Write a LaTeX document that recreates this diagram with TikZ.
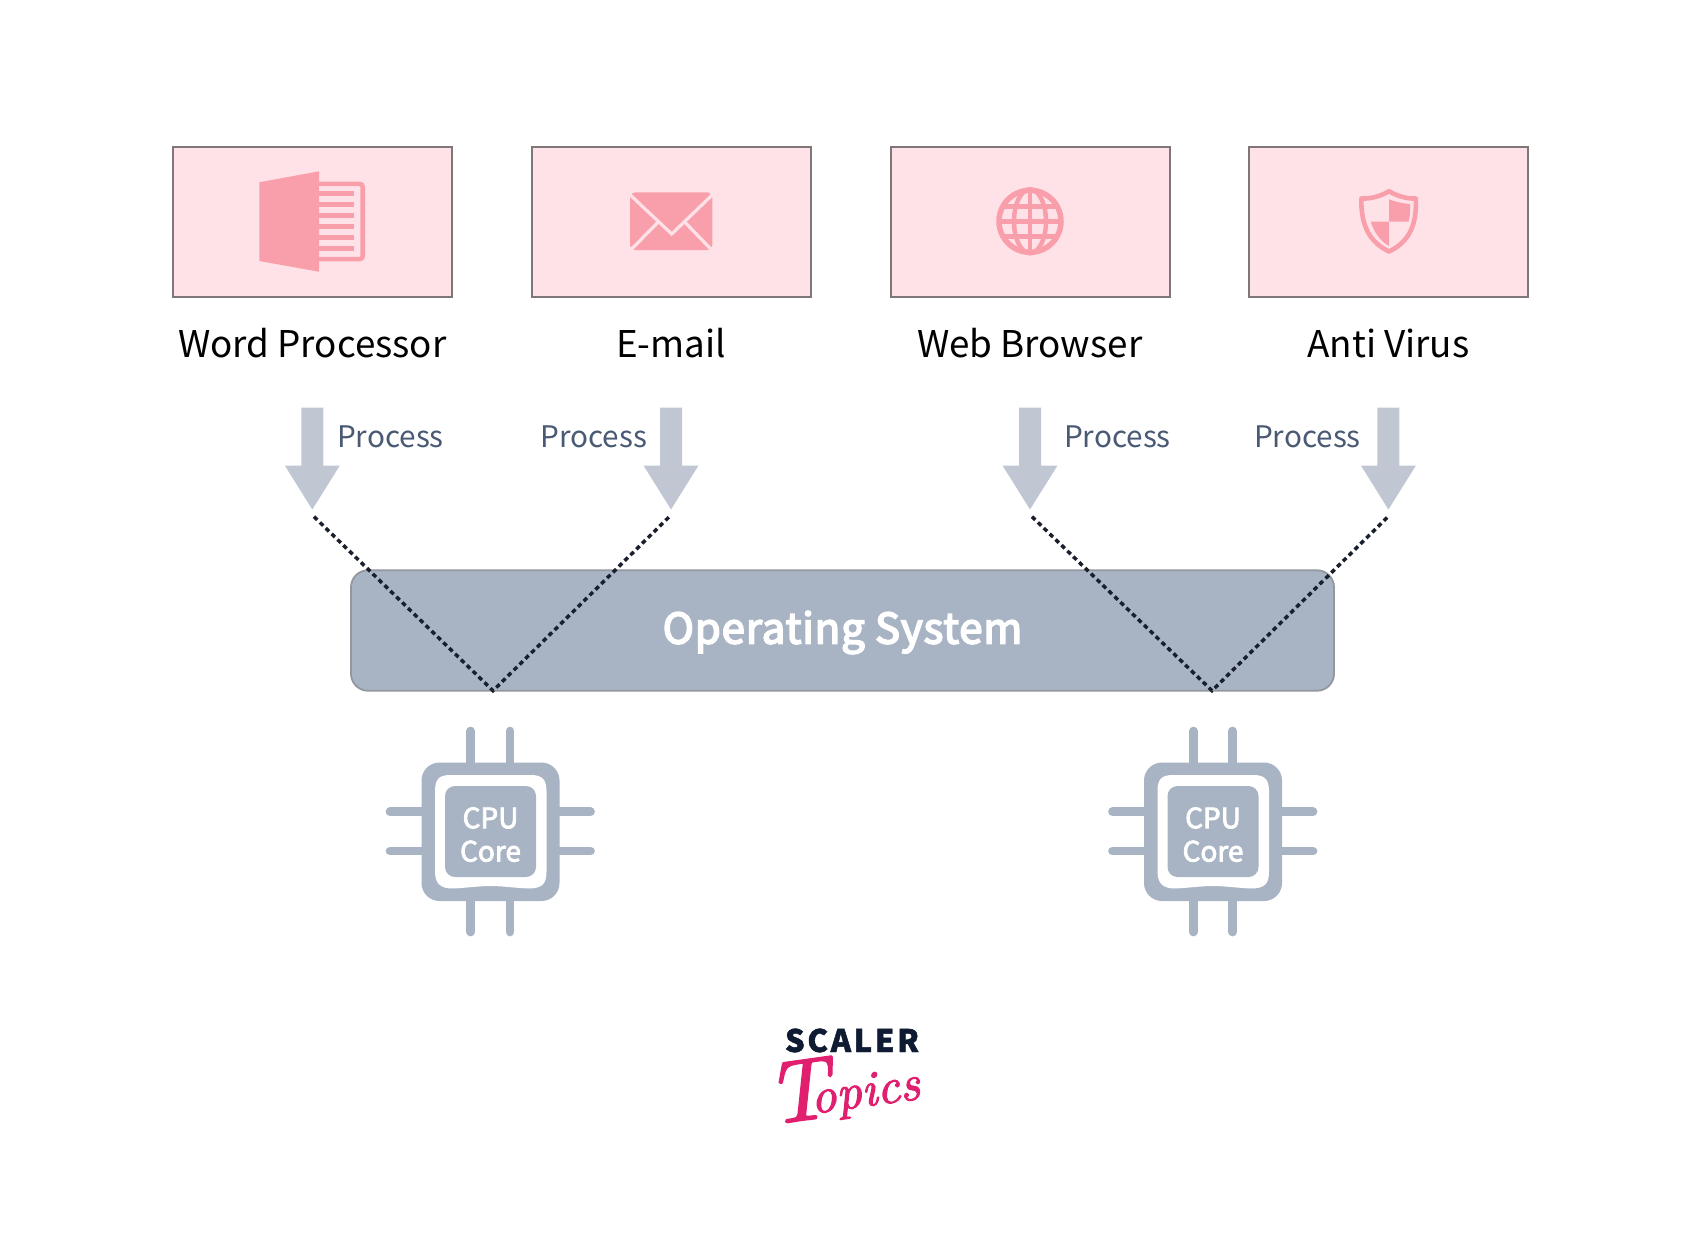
\documentclass[tikz,border=0pt]{standalone}
\usepackage{fontspec}
\newfontfamily\srcfont{Noto Sans CJK SC}
\newfontfamily\srcmedium[FakeBold=3]{Noto Sans CJK SC}
\newfontfamily\srcsemi[FakeBold=4,LetterSpace=2]{Noto Sans CJK SC}
\newfontfamily\scalerfont[LetterSpace=8.5,BoldFeatures={FakeBold=1.5}]{Noto Sans CJK SC}
\newfontfamily\topicsfont[Extension=.otf,FakeBold=2]{lmroman10-italic}
\definecolor{boxfill}{HTML}{FFE2E7}
\definecolor{boxline}{HTML}{7F7777}
\definecolor{iconpink}{HTML}{F99FAB}
\definecolor{osfill}{HTML}{A8B3C4}
\definecolor{osline}{HTML}{93979E}
\definecolor{arrowgrey}{HTML}{C0C7D3}
\definecolor{proctext}{HTML}{4A5A75}
\definecolor{dotline}{HTML}{1A1F2E}
\definecolor{scalerblue}{HTML}{0F1B33}
\definecolor{topicspink}{HTML}{E0206F}
\tikzset{
  appbox/.style={draw=boxline,line width=2pt,fill=boxfill,minimum width=279pt,minimum height=150pt,inner sep=0pt},
  apptitle/.style={anchor=base,inner sep=0pt,font=\srcfont\fontsize{36.8}{36.8}\selectfont,text=black},
  proclabel/.style={anchor=base,inner sep=0pt,font=\srcfont\fontsize{29.7}{29.7}\selectfont,text=proctext},
  coretext/.style={anchor=base,inner sep=0pt,font=\srcmedium\fontsize{28}{28}\selectfont,text=white},
  dotted link/.style={draw=dotline,line width=3.5pt,dash pattern=on 4.6pt off 3.6pt},
  pin/.style={draw=osfill,line width=8.7pt,line cap=round},
  procarrow/.style={fill=arrowgrey},
  iconfill/.style={fill=iconpink},
  iconline/.style={draw=iconpink},
}
\newcommand{\cpuicon}[3]{%
  \begin{scope}[shift={(#2,#3)}]
    \foreach \p in {-19.7,19.6}{
      \draw[pin] (\p,-100.5) -- (\p,-60);
      \draw[pin] (\p,100.5) -- (\p,60);
      \draw[pin] (-100.5,\p) -- (-60,\p);
      \draw[pin] (100,\p) -- (60,\p);
    }
    \fill[osfill,rounded corners=18pt] (-69,-69) rectangle (69,69.5);
    \fill[white] (-55.5,-40) .. controls (-55.5,-52) and (-52,-56.5) .. (-40,-56.5)
      -- (40,-56.5) .. controls (52,-56.5) and (56,-52) .. (56,-40)
      -- (56,40) .. controls (56,52) and (52,57) .. (38,57)
      .. controls (25,56.5) and (12,54.5) .. (0,54.5)
      .. controls (-12,54.5) and (-25,56.5) .. (-38,57)
      .. controls (-50,57) and (-55.5,52) .. (-55.5,40) -- cycle;
    \fill[osfill,rounded corners=10pt] (-45.5,-45.5) rectangle (45.5,45.5);
    \node[coretext] (#1a) at (0,-3.3) {CPU};
    \node[coretext] (#1b) at (0,30) {Core};
  \end{scope}}
\newcommand{\downarrowshape}[1]{%
  \fill[procarrow] (#1-11,407.5) -- (#1+11,407.5) -- (#1+11,465.5) -- (#1+27.5,465.5)
    -- (#1,509.5) -- (#1-27.5,465.5) -- (#1-11,465.5) -- cycle;}
\begin{document}
\begin{tikzpicture}[x=1pt,y=-1pt]
\useasboundingbox (0,0) rectangle (1701,1240);
\fill[white] (0,0) rectangle (1701,1240);

% application boxes
\node[appbox] (b1) at (312.6,221.5) {};
\node[appbox] (b2) at (671.3,221.5) {};
\node[appbox] (b3) at (1030,221.5) {};
\node[appbox] (b4) at (1388.7,221.5) {};

% titles
\node[apptitle] (t1) at (312.3,357.5) {Word Processor};
\node[apptitle] (t2) at (671,357.5) {E-mail};
\node[apptitle] (t3) at (1029.7,357.5) {Web Browser};
\node[apptitle] (t4) at (1388.4,357.5) {Anti Virus};

% book icon
\fill[iconfill] (259.3,182.3) -- (319,171.3) -- (319,271.7) -- (259.3,261) -- cycle;
\draw[iconline,line width=4.6pt,rounded corners=3pt] (319,183.9) -- (362.7,183.9) -- (362.7,259.1) -- (319,259.1);
\foreach \y in {193.7,204.7,215.7,226.7,237.7,248.5}
  \fill[iconfill] (319,\y-2.3) rectangle (354,\y+2.3);

% envelope icon
\fill[iconfill,rounded corners=6pt] (630,192.3) rectangle (712.4,250);
\draw[boxfill,line width=3.2pt] (628.7,193.5) -- (671.7,234) -- (713.7,193.5);
\draw[boxfill,line width=3.2pt] (630.7,250) -- (658.2,222);
\draw[boxfill,line width=3.2pt] (711.7,250) -- (684.7,222);

% globe icon
\begin{scope}[shift={(1030,221.3)}]
  \draw[iconline,line width=5.5pt] (0,0) circle[radius=31];
  \draw[iconline,line width=4.5pt] (0,0) ellipse[x radius=16,y radius=32];
  \draw[iconline,line width=4.5pt] (0,-32) -- (0,32);
  \draw[iconline,line width=4.5pt] (-32,0) -- (32,0);
  \draw[iconline,line width=4.5pt] (-27,-15) -- (27,-15);
  \draw[iconline,line width=4.5pt] (-27,15) -- (27,15);
\end{scope}

% shield icon
\draw[iconline,line width=4.6pt,line join=round] (1389,191.2) .. controls (1381,196) and (1371,199) .. (1361.3,198.5)
  .. controls (1361,222) and (1367,241) .. (1389,251.5)
  .. controls (1411,241) and (1417,222) .. (1415.7,198.5)
  .. controls (1407,199) and (1397,196) .. (1389,191.2) -- cycle;
\fill[iconfill] (1389,199.3) .. controls (1396,202) and (1403,203.5) .. (1410,204)
  .. controls (1410.5,210) and (1410,216) .. (1408.5,221.7) -- (1389,221.7) -- cycle;
\fill[iconfill] (1370.7,221.7) -- (1389,221.7) -- (1389,246) .. controls (1380,241) and (1374,232) .. (1370.7,221.7) -- cycle;

% process arrows
\downarrowshape{312.3}
\downarrowshape{671}
\downarrowshape{1030}
\downarrowshape{1388.4}

% process labels
\node[proclabel] (p1) at (390.5,447.5) {Process};
\node[proclabel] (p2) at (593.8,447.5) {Process};
\node[proclabel] (p3) at (1117.5,447.5) {Process};
\node[proclabel] (p4) at (1307.5,447.5) {Process};

% operating system
\node[fill=osfill,draw=osline,line width=1.8pt,rounded corners=17pt,minimum width=983pt,minimum height=120.5pt,inner sep=0pt] (os) at (842.5,630.5) {};
\node[anchor=base,inner sep=0pt,font=\srcsemi\fontsize{42}{42}\selectfont,text=white] (ostext) at (842.5,643.5) {Operating System};

% dotted links
\coordinate (s1) at (314,516.7);
\coordinate (s2) at (669.3,516.7);
\coordinate (s3) at (1032,516.7);
\coordinate (s4) at (1388,516.7);
\coordinate (a1) at (493,690.7);
\coordinate (a2) at (1212,690.7);
\draw[dotted link] (s1) -- (a1) -- (s2);
\draw[dotted link] (s3) -- (a2) -- (s4);

% cpu icons
\cpuicon{cpua}{490.5}{831.5}
\cpuicon{cpub}{1213}{831.5}

% logo
\node[anchor=base,inner sep=0pt,font=\scalerfont\bfseries\fontsize{31}{31}\selectfont,text=scalerblue] (scaler) at (852,1052) {SCALER};
\node[anchor=base west,inner sep=0pt,rotate=8,font=\topicsfont\fontsize{50}{50}\selectfont,text=topicspink] (topics) at (769,1120) {\raisebox{-5pt}{\fontsize{88}{88}\selectfont T}\kern-19ptopics};
\end{tikzpicture}
\end{document}
